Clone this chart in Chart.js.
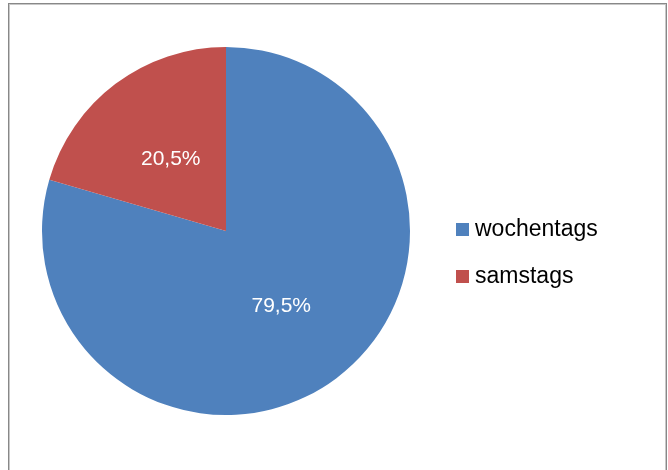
<!DOCTYPE html>
<html>
<head>
<meta charset="utf-8">
<script src="https://cdn.jsdelivr.net/npm/chart.js@4/dist/chart.umd.min.js"></script>
<style>
  html, body { margin: 0; padding: 0; background: #ffffff; }
  #wrap { position: relative; width: 668px; height: 470px; }
  canvas { display: block; }
</style>
</head>
<body>
<div id="wrap"><canvas id="c" width="668" height="470"></canvas></div>
<script>
const categories = ["wochentags", "samstags"];
const shares = [79.5, 20.5];
const sliceColors = ["#4F81BD", "#C0504D"];

function fmt(v) { return v.toFixed(1).replace('.', ',') + '%'; }

const frame = {
  id: 'frame',
  beforeDraw(chart) {
    const ctx = chart.ctx;
    ctx.save();
    ctx.fillStyle = '#ffffff';
    ctx.fillRect(0, 0, chart.width, chart.height);
    ctx.strokeStyle = '#888888';
    ctx.lineWidth = 1;
    ctx.strokeRect(8.5, 3.5, 658, 480);
    ctx.strokeStyle = '#c8c8c8';
    ctx.strokeRect(9.5, 4.5, 656, 480);
    ctx.restore();
  }
};

const sliceLabels = {
  id: 'sliceLabels',
  afterDatasetsDraw(chart) {
    const ctx = chart.ctx;
    const meta = chart.getDatasetMeta(0);
    ctx.save();
    ctx.fillStyle = '#ffffff';
    ctx.font = '21px "Liberation Sans", Arial, sans-serif';
    ctx.textAlign = 'center';
    ctx.textBaseline = 'middle';
    meta.data.forEach((arc, i) => {
      const p = arc.tooltipPosition();
      ctx.fillText(fmt(chart.data.datasets[0].data[i]), p.x, p.y + 1.5);
    });
    ctx.restore();
  }
};

const sideLegend = {
  id: 'sideLegend',
  afterDraw(chart) {
    const ctx = chart.ctx;
    const ds = chart.data.datasets[0];
    ctx.save();
    ctx.font = '23px "Liberation Sans", Arial, sans-serif';
    ctx.textAlign = 'left';
    ctx.textBaseline = 'middle';
    chart.data.labels.forEach((lab, i) => {
      const y = 230 + i * 46.7;
      ctx.fillStyle = ds.backgroundColor[i];
      ctx.fillRect(456, Math.round(y - 7), 13, 13);
      ctx.fillStyle = '#000000';
      ctx.fillText(lab, 475, y);
    });
    ctx.restore();
  }
};

new Chart(document.getElementById('c'), {
  type: 'pie',
  data: {
    labels: categories,
    datasets: [{
      data: shares,
      backgroundColor: sliceColors,
      borderWidth: 0
    }]
  },
  options: {
    responsive: false,
    animation: false,
    layout: { padding: { top: 47, bottom: 55, left: 42, right: 258 } },
    plugins: {
      legend: { display: false },
      tooltip: { enabled: false }
    }
  },
  plugins: [frame, sliceLabels, sideLegend]
});
</script>
</body>
</html>
